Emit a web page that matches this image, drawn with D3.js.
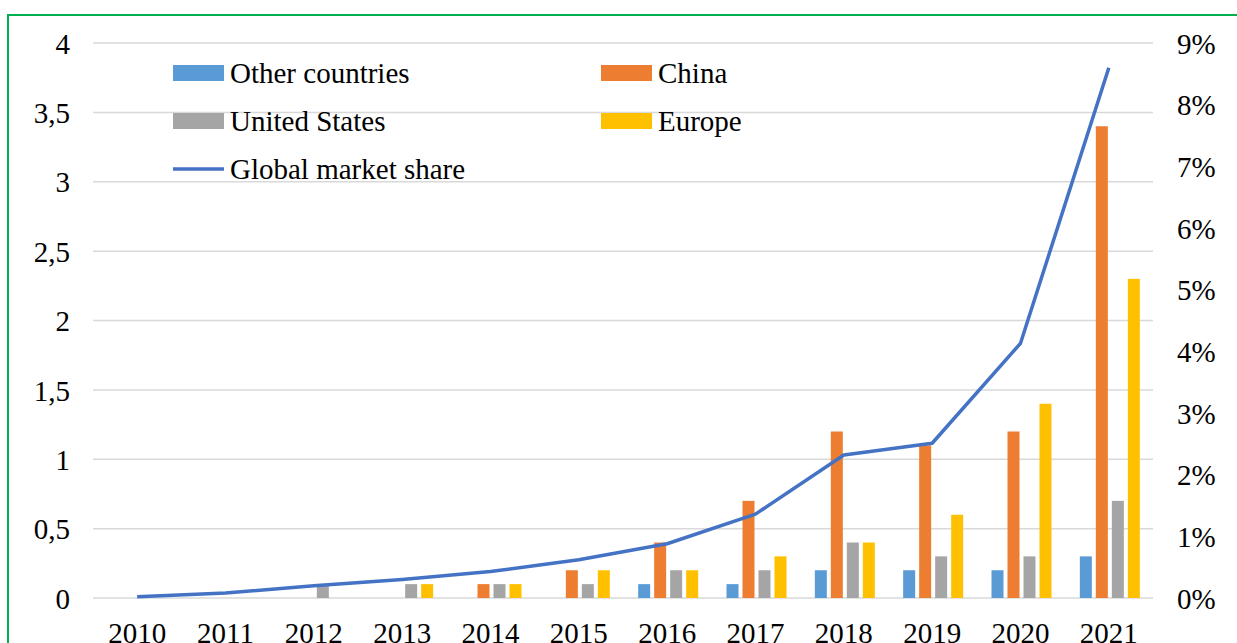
<!DOCTYPE html>
<html lang="en">
<head>
<meta charset="utf-8">
<title>EV sales by region</title>
<script src="https://cdn.jsdelivr.net/npm/d3@7/dist/d3.min.js"></script>
<style>
  body { margin: 0; background: #fff; }
  svg text { font-family: "Liberation Serif", "DejaVu Serif", serif !important; fill: #000; }
</style>
</head>
<body>
<svg id="chart" width="1237" height="643"></svg>
<script>
var years = ["2010","2011","2012","2013","2014","2015","2016","2017","2018","2019","2020","2021"];
var seriesNames = ["Other countries", "China", "United States", "Europe"];
var otherCountries = [0, 0, 0, 0, 0, 0, 0.1, 0.1, 0.2, 0.2, 0.2, 0.3];
var china          = [0, 0, 0, 0, 0.1, 0.2, 0.4, 0.7, 1.2, 1.1, 1.2, 3.4];
var unitedStates   = [0, 0, 0.1, 0.1, 0.1, 0.1, 0.2, 0.2, 0.4, 0.3, 0.3, 0.7];
var europe         = [0, 0, 0, 0.1, 0.1, 0.2, 0.2, 0.3, 0.4, 0.6, 1.4, 2.3];
var marketShare    = [0.0002, 0.0008, 0.002, 0.003, 0.0043, 0.0062, 0.0088, 0.0136, 0.0232, 0.0251, 0.0413, 0.086];
var leftTicks  = [0, 0.5, 1, 1.5, 2, 2.5, 3, 3.5, 4];
var rightTicks = [0, 0.01, 0.02, 0.03, 0.04, 0.05, 0.06, 0.07, 0.08, 0.09];
var colors = ["#5B9BD5", "#ED7D31", "#A5A5A5", "#FFC000"];
var lineColor = "#4472C4";

(function () {
    var svg = d3.select("#chart");
    var fontSize = 29;
    var serif = "Liberation Serif, serif";

    // green frame around the figure
    svg.append("rect")
        .attr("x", 8).attr("y", 15)
        .attr("width", 1260).attr("height", 660)
        .attr("fill", "none")
        .attr("stroke", "#00B050")
        .attr("stroke-width", 2);

    var plotLeft = 93, plotRight = 1153, plotTop = 43, plotBottom = 598;

    var x = d3.scaleBand().domain(years).range([plotLeft, plotRight]).padding(0);
    var x1 = d3.scaleBand().domain(seriesNames).range([0, 64]).paddingInner(0.25).paddingOuter(0.125);
    var y = d3.scaleLinear().domain([0, 4]).range([plotBottom, plotTop]);
    var y2 = d3.scaleLinear().domain([0, 0.09]).range([plotBottom, plotTop]);

    // gridlines
    svg.append("g").selectAll("line")
        .data(leftTicks)
        .enter().append("line")
        .attr("x1", plotLeft).attr("x2", plotRight)
        .attr("y1", function (d) { return y(d); })
        .attr("y2", function (d) { return y(d); })
        .attr("stroke", "#D9D9D9")
        .attr("stroke-width", 1.5);

    // left axis
    var fmtLeft = function (d) { return String(d).replace(".", ","); };
    var yAxis = svg.append("g")
        .attr("transform", "translate(70,0)")
        .call(d3.axisLeft(y).tickValues(leftTicks).tickFormat(fmtLeft).tickSize(0).tickPadding(0))
        .attr("font-family", serif);
    yAxis.select(".domain").remove();
    yAxis.selectAll("text").attr("font-size", fontSize).attr("dy", "0.35em");

    // right axis
    var yAxis2 = svg.append("g")
        .attr("transform", "translate(1177,0)")
        .call(d3.axisRight(y2).tickValues(rightTicks).tickFormat(d3.format(".0%")).tickSize(0).tickPadding(0))
        .attr("font-family", serif);
    yAxis2.select(".domain").remove();
    yAxis2.selectAll("text").attr("font-size", fontSize).attr("dy", "0.35em");

    // x axis labels (cut at the bottom edge as in the source figure)
    var xAxis = svg.append("g")
        .attr("transform", "translate(0," + plotBottom + ")")
        .call(d3.axisBottom(x).tickSize(0).tickPadding(24))
        .attr("font-family", serif);
    xAxis.select(".domain").remove();
    xAxis.selectAll("text").attr("font-size", fontSize);

    // bars
    var seriesData = [otherCountries, china, unitedStates, europe];
    svg.append("g").selectAll("g")
        .data(seriesData)
        .enter().append("g")
        .attr("fill", function (d, i) { return colors[i]; })
        .each(function (vals, si) {
            d3.select(this).selectAll("rect")
                .data(vals.map(function (v, i) { return { year: years[i], v: v }; })
                          .filter(function (d) { return d.v > 0; }))
                .enter().append("rect")
                .attr("x", function (d) { return x(d.year) + x.bandwidth() / 2 - 31 + x1(seriesNames[si]); })
                .attr("width", x1.bandwidth())
                .attr("y", function (d) { return y(d.v); })
                .attr("height", function (d) { return plotBottom - y(d.v); });
        });

    // market share line
    var line = d3.line()
        .x(function (d, i) { return x(years[i]) + x.bandwidth() / 2; })
        .y(function (d) { return y2(d); });
    svg.append("path")
        .datum(marketShare)
        .attr("d", line)
        .attr("fill", "none")
        .attr("stroke", lineColor)
        .attr("stroke-width", 3.5)
        .attr("stroke-linejoin", "round");

    // legend
    var legendItems = [
        { name: "Other countries", color: colors[0], type: "rect", x: 173, y: 73 },
        { name: "China", color: colors[1], type: "rect", x: 601, y: 73 },
        { name: "United States", color: colors[2], type: "rect", x: 173, y: 121 },
        { name: "Europe", color: colors[3], type: "rect", x: 601, y: 121 },
        { name: "Global market share", color: lineColor, type: "line", x: 173, y: 169 }
    ];
    var legend = svg.append("g").selectAll("g")
        .data(legendItems)
        .enter().append("g")
        .attr("transform", function (d) { return "translate(" + d.x + "," + d.y + ")"; });
    legend.filter(function (d) { return d.type === "rect"; })
        .append("rect")
        .attr("x", 0).attr("y", -8)
        .attr("width", 51).attr("height", 16)
        .attr("fill", function (d) { return d.color; });
    legend.filter(function (d) { return d.type === "line"; })
        .append("line")
        .attr("x1", 0).attr("x2", 51)
        .attr("stroke", function (d) { return d.color; })
        .attr("stroke-width", 3.5);
    legend.append("text")
        .attr("x", 57)
        .attr("dy", "0.35em")
        .attr("font-family", serif)
        .attr("font-size", fontSize)
        .text(function (d) { return d.name; });
})();
</script>
</body>
</html>
